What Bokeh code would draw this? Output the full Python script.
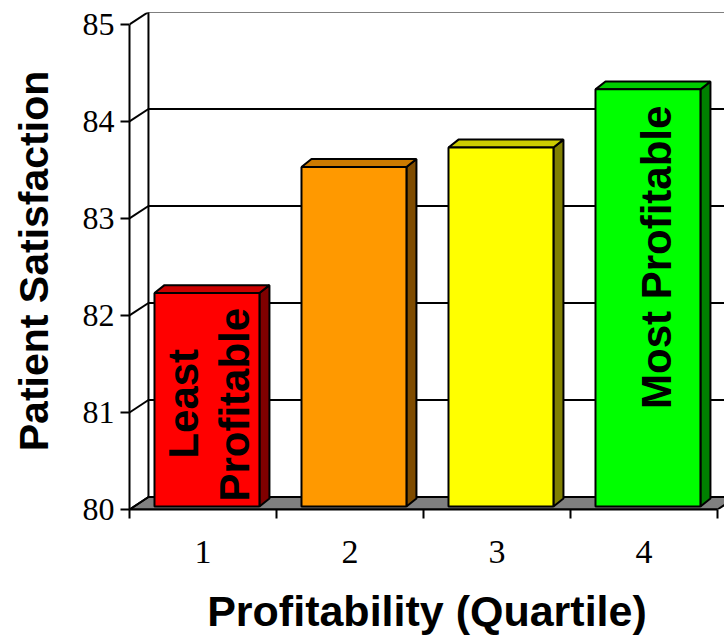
import numpy as np
from bokeh.plotting import figure
from bokeh.models import FixedTicker, Range1d
from bokeh.core.properties import value
from bokeh.embed import file_html
from bokeh.resources import INLINE

# ---- data ----
categories = ["1", "2", "3", "4"]
satisfaction = [82.2, 83.5, 83.7, 84.3]
y_ticks = [80, 81, 82, 83, 84, 85]
front_colors = ["#FF0000", "#FF9900", "#FFFF00", "#00FF00"]
top_colors = ["#CC0000", "#CC7A00", "#CCCC00", "#00CC00"]
side_colors = ["#800000", "#7F4C00", "#808000", "#008000"]
x_title = "Profitability (Quartile)"
y_title = "Patient Satisfaction"
bar_notes = ["Least", "Profitable", "Most Profitable"]
note_bar = [0, 0, 3]

# ---- style constants (3-D projection) ----
Y0 = 80.0
DX, DY = 0.129, 0.129          # wall depth offset
BAR_OFF, BAR_W = 0.170, 0.714  # bar front face within category
BAR_S = 0.031                   # bar front face set back (vertical shift)
BDX, BDY = 0.068, 0.082         # bar depth
NOTE_DX = [0.367, 0.717, 0.584]  # offset of notes in category units
NOTE_Y = [81.09, 81.08, 82.60]

nc = len(categories)
X_END = 595 / 147
Y_END = 80 + 498 / 97.2

p = figure(width=724, height=637, output_backend="svg", toolbar_location=None,
           x_range=Range1d(0, X_END), y_range=Range1d(Y0, Y_END),
           min_border_left=129, min_border_right=0, min_border_top=12,
           min_border_bottom=127)
p.outline_line_color = None
p.xgrid.visible = False
p.ygrid.visible = False
p.background_fill_color = "white"

# floor
p.patch(x=[0, nc, nc + DX, DX], y=[Y0, Y0, Y0 + DY, Y0 + DY],
        fill_color="#808080", line_color="black", line_width=2)

# side wall diagonals and back wall grid lines
p.segment(x0=[0] * len(y_ticks), y0=y_ticks,
          x1=[DX] * len(y_ticks), y1=[k + DY for k in y_ticks],
          line_color="black", line_width=2)
p.segment(x0=[DX] * len(y_ticks), y0=[k + DY for k in y_ticks],
          x1=[X_END + 1] * len(y_ticks), y1=[k + DY for k in y_ticks],
          line_color="black", line_width=2)
p.segment(x0=[DX], y0=[y_ticks[0] + DY], x1=[DX], y1=[y_ticks[-1] + DY],
          line_color="black", line_width=2)

# bars
L = [i + BAR_OFF for i in range(nc)]
R = [l + BAR_W for l in L]
b = Y0 + BAR_S
T = [v + BAR_S for v in satisfaction]
top_xs = [[l, r, r + BDX, l + BDX] for l, r in zip(L, R)]
top_ys = [[t, t, t + BDY, t + BDY] for t in T]
side_xs = [[r, r + BDX, r + BDX, r] for r in R]
side_ys = [[b, b + BDY, t + BDY, t] for t in T]
p.patches(xs=side_xs, ys=side_ys, fill_color=side_colors, line_color="black", line_width=2)
p.patches(xs=top_xs, ys=top_ys, fill_color=top_colors, line_color="black", line_width=2)
p.quad(left=L, right=R, bottom=[b] * nc, top=T, fill_color=front_colors,
       line_color="black", line_width=2)

# notes inside bars
p.text(x=[note_bar[k] + NOTE_DX[k] for k in range(len(bar_notes))], y=NOTE_Y,
       text=bar_notes, angle=np.pi / 2, text_font=value("Liberation Sans"),
       text_font_style="bold", text_font_size="42px", text_color="black",
       text_align="center", text_baseline="alphabetic")

# x axis
xa = p.xaxis[0]
xa.ticker = FixedTicker(ticks=[i + 0.5 for i in range(nc)], minor_ticks=list(range(nc + 1)))
xa.major_label_overrides = {i + 0.5: c for i, c in enumerate(categories)}
xa.bounds = (0, nc)
xa.major_tick_out = 0
xa.major_tick_in = 0
xa.minor_tick_out = 9
xa.minor_tick_in = 0
xa.minor_tick_line_width = 2
xa.minor_tick_line_color = "black"
xa.axis_line_width = 2
xa.axis_line_color = "black"
xa.major_label_text_font = "Liberation Serif"
xa.major_label_text_font_size = "34px"
xa.major_label_text_color = "black"
xa.major_label_standoff = 22
xa.axis_label = x_title
xa.axis_label_text_font = "Liberation Sans"
xa.axis_label_text_font_style = "bold"
xa.axis_label_text_font_size = "43px"
xa.axis_label_text_color = "black"
xa.axis_label_standoff = 21

# y axis
ya = p.yaxis[0]
ya.ticker = FixedTicker(ticks=y_ticks)
ya.bounds = (y_ticks[0], y_ticks[-1])
ya.major_tick_out = 9
ya.major_tick_in = 0
ya.major_tick_line_width = 2
ya.major_tick_line_color = "black"
ya.minor_tick_out = 0
ya.minor_tick_in = 0
ya.axis_line_width = 2
ya.axis_line_color = "black"
ya.major_label_text_font = "Liberation Serif"
ya.major_label_text_font_size = "32px"
ya.major_label_text_color = "black"
ya.major_label_standoff = 6
ya.axis_label = y_title
ya.axis_label_text_font = "Liberation Sans"
ya.axis_label_text_font_style = "bold"
ya.axis_label_text_font_size = "41px"
ya.axis_label_text_color = "black"
ya.axis_label_standoff = 23

open("out.html", "w").write(file_html(p, INLINE))
